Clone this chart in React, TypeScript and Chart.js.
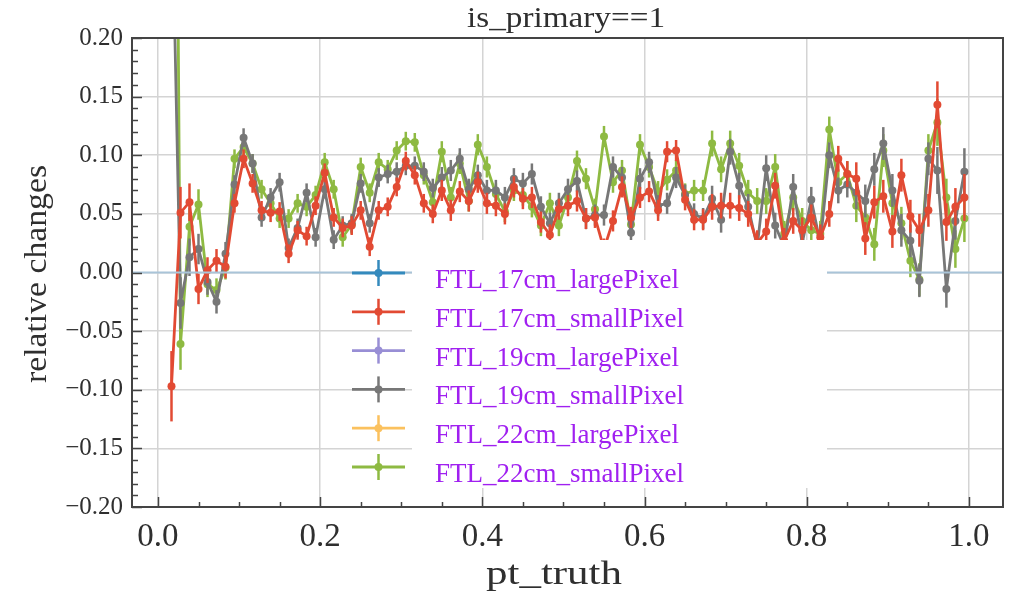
import React, { useEffect, useRef } from "react";
import { Chart, registerables } from "chart.js";

Chart.register(...registerables);

// ---- data ----
const ptTruth = [
  0.0167, 0.0278, 0.0389, 0.05, 0.0611, 0.0722, 0.0833, 0.0944, 0.1056, 0.1167,
  0.1278, 0.1389, 0.15, 0.1611, 0.1722, 0.1833, 0.1944, 0.2056, 0.2167, 0.2278,
  0.2389, 0.25, 0.2611, 0.2722, 0.2833, 0.2944, 0.3056, 0.3167, 0.3278, 0.3389,
  0.35, 0.3611, 0.3722, 0.3833, 0.3944, 0.4056, 0.4167, 0.4278, 0.4389, 0.45,
  0.4611, 0.4722, 0.4833, 0.4944, 0.5056, 0.5167, 0.5278, 0.5389, 0.55, 0.5611,
  0.5722, 0.5833, 0.5944, 0.6056, 0.6167, 0.6278, 0.6389, 0.65, 0.6611, 0.6722,
  0.6833, 0.6944, 0.7056, 0.7167, 0.7278, 0.7389, 0.75, 0.7611, 0.7722, 0.7833,
  0.7944, 0.8056, 0.8167, 0.8278, 0.8389, 0.85, 0.8611, 0.8722, 0.8833, 0.8944,
  0.9056, 0.9167, 0.9278, 0.9389, 0.95, 0.9611, 0.9722, 0.9833, 0.9944,
];

const ftl17cmSmallPixel = [
  -0.097, 0.051, 0.06, -0.014, 0.002, 0.01, 0.005, 0.059, 0.097, 0.076,
  0.053, 0.051, 0.052, 0.016, 0.036, 0.031, 0.057, 0.085, 0.047, 0.038,
  0.04, 0.053, 0.022, 0.053, 0.056, 0.073, 0.095, 0.083, 0.059, 0.05,
  0.07, 0.053, 0.069, 0.061, 0.077, 0.059, 0.057, 0.05, 0.073, 0.063,
  0.064, 0.043, 0.032, 0.054, 0.057, 0.061, 0.046, 0.047, 0.02, 0.044,
  0.073, 0.047, 0.064, 0.069, 0.053, 0.103, 0.104, 0.062, 0.045, 0.045,
  0.056, 0.057, 0.057, 0.055, 0.05, 0.025, 0.035, 0.074, 0.027, 0.044,
  0.036, 0.047, 0.03, 0.05, 0.097, 0.084, 0.08, 0.029, 0.06, 0.065,
  0.035, 0.083, 0.048, 0.036, 0.053, 0.143, 0.043, 0.056, 0.064,
];

const ftl19cmSmallPixel = [
  0.34, -0.026, 0.013, 0.02, -0.008, -0.025, 0.016, 0.075, 0.115, 0.093,
  0.047, 0.064, 0.077, 0.021, 0.038, 0.068, 0.03, 0.071, 0.028, 0.04,
  0.042, 0.076, 0.042, 0.081, 0.084, 0.086, 0.091, 0.091, 0.086, 0.072,
  0.081, 0.087, 0.097, 0.071, 0.083, 0.07, 0.07, 0.064, 0.08, 0.076,
  0.084, 0.056, 0.042, 0.059, 0.071, 0.078, 0.046, 0.049, 0.049, 0.09,
  0.081, 0.034, 0.08, 0.094, 0.057, 0.059, 0.081, 0.066, 0.05, 0.046,
  0.063, 0.045, 0.103, 0.074, 0.056, 0.022, 0.089, 0.04, 0.022, 0.073,
  0.025, 0.062, 0.025, 0.1, 0.07, 0.075, 0.068, 0.061, 0.088, 0.11,
  0.07, 0.036, 0.027, -0.007, 0.097, 0.087, -0.014, 0.044, 0.086,
];

const ftl22cmSmallPixel = [
  1.0, -0.061, 0.039, 0.058, -0.01, -0.015, 0.004, 0.097, 0.107, 0.093,
  0.071, 0.059, 0.046, 0.046, 0.059, 0.056, 0.066, 0.094, 0.071, 0.03,
  0.041, 0.09, 0.068, 0.094, 0.088, 0.104, 0.112, 0.111, 0.083, 0.06,
  0.103, 0.064, 0.093, 0.061, 0.109, 0.09, 0.067, 0.052, 0.07, 0.066,
  0.056, 0.04, 0.059, 0.04, 0.064, 0.095, 0.08, 0.054, 0.116, 0.077,
  0.087, 0.041, 0.109, 0.09, 0.069, 0.079, 0.087, 0.067, 0.07, 0.07,
  0.11, 0.088, 0.11, 0.091, 0.068, 0.061, 0.061, 0.09, 0.033, 0.064,
  0.044, 0.036, 0.033, 0.122, 0.077, 0.084, 0.057, 0.047, 0.024, 0.104,
  0.059, 0.042, 0.01, -0.006, 0.104, 0.128, 0.064, 0.02, 0.046,
];

const errHalfWidth = [
  0.03, 0.022, 0.016, 0.013, 0.011, 0.01, 0.01, 0.008, 0.008, 0.008,
  0.008, 0.008, 0.008, 0.008, 0.008, 0.008, 0.008, 0.008, 0.008, 0.008,
  0.008, 0.008, 0.008, 0.008, 0.008, 0.008, 0.008, 0.008, 0.008, 0.008,
  0.009, 0.009, 0.009, 0.009, 0.009, 0.009, 0.009, 0.009, 0.009, 0.009,
  0.009, 0.009, 0.009, 0.009, 0.009, 0.009, 0.009, 0.009, 0.009, 0.009,
  0.009, 0.009, 0.009, 0.009, 0.009, 0.009, 0.009, 0.009, 0.009, 0.009,
  0.011, 0.011, 0.011, 0.011, 0.011, 0.011, 0.011, 0.011, 0.011, 0.011,
  0.011, 0.011, 0.011, 0.011, 0.011, 0.011, 0.014, 0.014, 0.014, 0.014,
  0.014, 0.014, 0.014, 0.014, 0.014, 0.02, 0.016, 0.016, 0.02,
];

const zeroLineX = [-0.1, 1.1];

const seriesNames = [
  "FTL_17cm_largePixel",
  "FTL_17cm_smallPixel",
  "FTL_19cm_largePixel",
  "FTL_19cm_smallPixel",
  "FTL_22cm_largePixel",
  "FTL_22cm_smallPixel",
];
const seriesColors = ["#348ABD", "#E24A33", "#988ED5", "#777777", "#FBC15E", "#8EBA42"];

const xMajorTicks = [0, 0.2, 0.4, 0.6, 0.8, 1.0];
const yMajorTicks = [-0.2, -0.15, -0.1, -0.05, 0, 0.05, 0.1, 0.15, 0.2];

const titleText = "is_primary==1";
const xLabelText = "pt_truth";
const yLabelText = "relative changes";

// ---- styles ----
const SERIF = '"Liberation Serif", "DejaVu Serif", serif';
const TEXT = "#2f2f2f";
const SPINE = "#444444";
const GRID = "#d4d4d4";
const LEGEND_TEXT = "#A020F0";

function drawFitted(ctx: CanvasRenderingContext2D, text: string, fontPx: number, width: number) {
  ctx.font = `${fontPx}px ${SERIF}`;
  const w = ctx.measureText(text).width;
  const sx = width / w;
  ctx.save();
  ctx.scale(sx, 1);
  ctx.fillText(text, 0, 0);
  ctx.restore();
}

const decorPlugin = {
  id: "decor",
  beforeDatasetDraw(chart: any, args: any) {
    const ds = chart.data.datasets[args.index];
    const errs = ds.errors;
    if (!errs) return;
    const { ctx, chartArea: a } = chart;
    const xs = chart.scales.x;
    const ys = chart.scales.y;
    ctx.save();
    ctx.beginPath();
    ctx.rect(a.left, a.top, a.right - a.left, a.bottom - a.top);
    ctx.clip();
    ctx.strokeStyle = ds.borderColor;
    ctx.lineWidth = 2.5;
    ds.data.forEach((p: any, i: number) => {
      const px = xs.getPixelForValue(p.x);
      ctx.beginPath();
      ctx.moveTo(px, ys.getPixelForValue(p.y - errs[i]));
      ctx.lineTo(px, ys.getPixelForValue(p.y + errs[i]));
      ctx.stroke();
    });
    ctx.restore();
  },
  afterDatasetsDraw(chart: any) {
    const { ctx, chartArea: a } = chart;
    const xs = chart.scales.x;
    const ys = chart.scales.y;
    ctx.save();

    // pasted white legend box
    ctx.fillStyle = "#ffffff";
    ctx.fillRect(412, 240, 415, 248);

    // legend handles + labels
    ctx.font = `27px ${SERIF}`;
    ctx.textAlign = "left";
    ctx.textBaseline = "alphabetic";
    seriesNames.forEach((name, i) => {
      const cy = 273 + i * 38.8;
      const col = seriesColors[i];
      ctx.strokeStyle = col;
      ctx.lineWidth = 2.8;
      ctx.beginPath();
      ctx.moveTo(352, cy);
      ctx.lineTo(405, cy);
      ctx.stroke();
      ctx.lineWidth = 2.5;
      ctx.beginPath();
      ctx.moveTo(378.5, cy - 13);
      ctx.lineTo(378.5, cy + 13);
      ctx.stroke();
      ctx.fillStyle = col;
      ctx.beginPath();
      ctx.arc(378.5, cy, 4, 0, Math.PI * 2);
      ctx.fill();
      ctx.fillStyle = LEGEND_TEXT;
      ctx.fillText(name, 435, cy + 15);
    });

    // inward ticks
    ctx.strokeStyle = SPINE;
    ctx.lineWidth = 1.5;
    for (let k = 0; k <= 20; k++) {
      const v = k * 0.05;
      const major = k % 4 === 0;
      const px = Math.round(xs.getPixelForValue(v)) + 0.5;
      ctx.beginPath();
      ctx.moveTo(px, a.bottom);
      ctx.lineTo(px, a.bottom - (major ? 10 : 5));
      ctx.stroke();
    }
    for (let k = -20; k <= 20; k++) {
      const v = k * 0.01;
      const major = k % 5 === 0;
      const py = Math.round(ys.getPixelForValue(v)) + 0.5;
      ctx.beginPath();
      ctx.moveTo(a.left, py);
      ctx.lineTo(a.left + (major ? 10 : 6), py);
      ctx.stroke();
    }

    // spines
    ctx.lineWidth = 2;
    ctx.strokeRect(a.left, a.top, a.right - a.left, a.bottom - a.top);
    ctx.restore();
  },
  afterDraw(chart: any) {
    const { ctx } = chart;
    ctx.save();
    ctx.fillStyle = TEXT;
    ctx.textAlign = "center";
    ctx.textBaseline = "middle";

    ctx.save();
    ctx.translate(566, 19);
    drawFitted(ctx, titleText, 29, 198);
    ctx.restore();

    ctx.save();
    ctx.translate(554, 575);
    drawFitted(ctx, xLabelText, 33, 136);
    ctx.restore();

    ctx.save();
    ctx.translate(38, 274);
    ctx.rotate(-Math.PI / 2);
    drawFitted(ctx, yLabelText, 31, 218);
    ctx.restore();

    ctx.restore();
  },
};

export default function App() {
  const canvasRef = useRef<HTMLCanvasElement | null>(null);

  useEffect(() => {
    const canvas = canvasRef.current;
    if (!canvas) return;
    const toPoints = (vals: number[]) => ptTruth.map((x, i) => ({ x, y: vals[i] }));
    const line = (idx: number, vals: number[]) => ({
      label: seriesNames[idx],
      data: toPoints(vals),
      borderColor: seriesColors[idx],
      backgroundColor: seriesColors[idx],
      borderWidth: 2.8,
      pointRadius: 4,
      pointBorderWidth: 0,
      pointHoverRadius: 4,
      tension: 0,
      errors: errHalfWidth,
    });

    const chart = new Chart(canvas, {
      type: "line",
      data: {
        datasets: [
          {
            label: "zero",
            data: zeroLineX.map((x) => ({ x, y: 0 })),
            borderColor: "#a9c4d8",
            borderWidth: 2,
            pointRadius: 0,
          } as any,
          line(1, ftl17cmSmallPixel),
          line(3, ftl19cmSmallPixel),
          line(5, ftl22cmSmallPixel),
        ],
      },
      options: {
        animation: false,
        responsive: false,
        devicePixelRatio: 1,
        events: [],
        layout: { padding: { left: 0, top: 38, right: 8, bottom: 0 } },
        plugins: {
          legend: { display: false },
          tooltip: { enabled: false },
          title: { display: false },
        },
        scales: {
          x: {
            type: "linear",
            min: -0.032,
            max: 1.042,
            afterBuildTicks: (s: any) => {
              s.ticks = xMajorTicks.map((v) => ({ value: v }));
            },
            afterFit: (s: any) => {
              s.height = 84;
            },
            ticks: {
              font: { family: SERIF, size: 33 },
              color: TEXT,
              padding: 11,
              maxRotation: 0,
              autoSkip: false,
              callback: (v: any) => Number(v).toFixed(1),
            },
            grid: { color: GRID, lineWidth: 1.5, drawTicks: false },
            border: { display: false },
          },
          y: {
            type: "linear",
            min: -0.2,
            max: 0.2,
            afterBuildTicks: (s: any) => {
              s.ticks = yMajorTicks.map((v) => ({ value: v }));
            },
            afterFit: (s: any) => {
              s.width = 132;
            },
            ticks: {
              font: { family: SERIF, size: 25 },
              color: TEXT,
              padding: 9,
              autoSkip: false,
              callback: (v: any) => {
                const n = Number(v);
                const s = Math.abs(n).toFixed(2);
                return n < -1e-9 ? "\u2212" + s : s;
              },
            },
            grid: { color: GRID, lineWidth: 1.5, drawTicks: false },
            border: { display: false },
          },
        },
      } as any,
      plugins: [decorPlugin as any],
    });
    return () => chart.destroy();
  }, []);

  return (
    <div style={{ position: "fixed", left: 0, top: 0, width: 1011, height: 591, background: "#fff" }}>
      <canvas ref={canvasRef} width={1011} height={591} style={{ width: 1011, height: 591 }} />
    </div>
  );
}
